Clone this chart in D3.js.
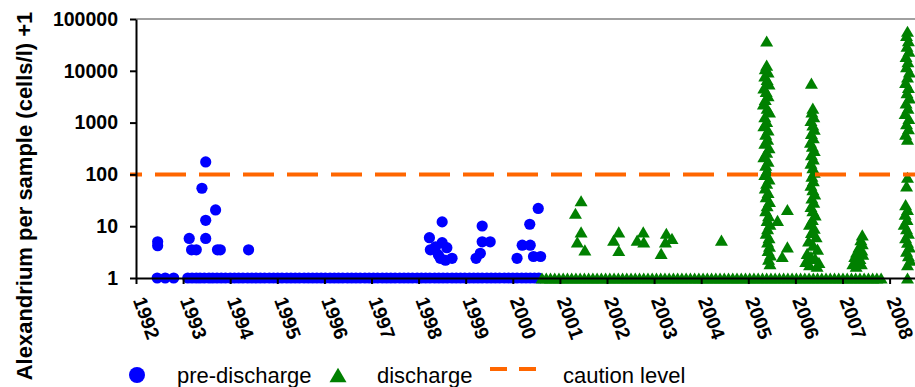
<!DOCTYPE html>
<html>
<head>
<meta charset="utf-8">
<script src="https://cdn.jsdelivr.net/npm/d3@7"></script>
<style>
  body { margin: 0; background: #fff; }
  svg { display: block; font-family: "Liberation Sans", Arial, sans-serif; }
</style>
</head>
<body>
<svg id="chart" width="915" height="387"></svg>
<script>
// chart data
const years = [1992, 1993, 1994, 1995, 1996, 1997, 1998, 1999, 2000, 2001, 2002, 2003, 2004, 2005, 2006, 2007, 2008];
const yTicks = [1, 10, 100, 1000, 10000, 100000];
const cautionLevel = 100;

// pre-discharge samples with no cells (plotted at 0 + 1)
const preZeroDates = [
  1992.45, 1992.62, 1992.80,
  1993.10, 1993.19, 1993.28, 1993.36, 1993.45, 1993.55, 1993.63, 1993.72, 1993.81, 1993.90,
  1994.00, 1994.09, 1994.18, 1994.27, 1994.37, 1994.46, 1994.55, 1994.64, 1994.73, 1994.83, 1994.92,
  1995.01, 1995.10, 1995.20, 1995.29, 1995.38, 1995.47, 1995.57, 1995.66, 1995.75, 1995.84, 1995.93,
  1996.02, 1996.12, 1996.21, 1996.30, 1996.39, 1996.49, 1996.58, 1996.67, 1996.76, 1996.86, 1996.95,
  1997.04, 1997.13, 1997.23, 1997.32, 1997.41, 1997.50, 1997.60, 1997.69, 1997.78, 1997.87, 1997.97,
  1998.06, 1998.15, 1998.24, 1998.34, 1998.43, 1998.52, 1998.61, 1998.71, 1998.80, 1998.89, 1998.98,
  1999.08, 1999.17, 1999.26, 1999.35, 1999.45, 1999.54, 1999.63, 1999.72, 1999.82, 1999.91,
  2000.00, 2000.09, 2000.19, 2000.28, 2000.37, 2000.46, 2000.55
];

// pre-discharge samples with cells
const preCounts = [
  [1992.46, 5.0], [1992.46, 4.2],
  [1993.13, 5.8], [1993.18, 3.5], [1993.28, 3.5], [1993.40, 54], [1993.48, 174], [1993.48, 13],
  [1993.48, 5.8], [1993.69, 20.6], [1993.73, 3.5], [1993.79, 3.5], [1994.39, 3.5],
  [1998.23, 6.0], [1998.25, 3.5], [1998.36, 4.0], [1998.50, 12.1], [1998.50, 4.8], [1998.60, 3.85],
  [1998.42, 2.8], [1998.71, 2.4], [1998.57, 2.2], [1998.46, 2.4],
  [1999.35, 10.1], [1999.35, 5.0], [1999.52, 5.0], [1999.31, 3.0], [1999.22, 2.4],
  [2000.54, 22], [2000.36, 10.9], [2000.20, 4.3], [2000.37, 4.3], [2000.09, 2.4], [2000.44, 2.6], [2000.59, 2.6]
];

// discharge samples with no cells
const disZeroDates = [
  2000.62, 2000.71, 2000.80, 2000.89, 2000.98,
  2001.07, 2001.16, 2001.25, 2001.34, 2001.43, 2001.52, 2001.61, 2001.70, 2001.79, 2001.88, 2001.97,
  2002.06, 2002.15, 2002.24, 2002.33, 2002.42, 2002.51, 2002.60, 2002.69, 2002.78, 2002.87, 2002.96,
  2003.05, 2003.14, 2003.23, 2003.32, 2003.41, 2003.50, 2003.59, 2003.68, 2003.77, 2003.86, 2003.95,
  2004.04, 2004.13, 2004.22, 2004.31, 2004.40, 2004.49, 2004.58, 2004.67, 2004.76, 2004.85, 2004.94,
  2005.03, 2005.12, 2005.21, 2005.30, 2005.39, 2005.48, 2005.57, 2005.66, 2005.75, 2005.84, 2005.93,
  2006.02, 2006.11, 2006.20, 2006.29, 2006.38, 2006.47, 2006.56, 2006.65, 2006.74, 2006.83, 2006.92,
  2007.01, 2007.10, 2007.19, 2007.28, 2007.37, 2007.46, 2007.55, 2007.64, 2007.73, 2007.82,
  2008.38
];

// discharge samples with cells
const disCounts = [
  [2001.45, 31], [2001.33, 17.8], [2001.45, 7.8], [2001.37, 5.0], [2001.53, 3.5],
  [2002.25, 7.8], [2002.14, 5.4], [2002.25, 3.4],
  [2002.77, 7.8], [2002.64, 5.4], [2002.78, 5.0],
  [2003.26, 7.3], [2003.38, 5.8], [2003.24, 5.0], [2003.15, 3.0],
  [2004.43, 5.4],
  // 2005 bloom
  [2005.39, 37600],
  [2005.39, 12900], [2005.36, 11000], [2005.42, 9500], [2005.35, 8000], [2005.40, 6800], [2005.44, 5600],
  [2005.33, 4700], [2005.38, 4000], [2005.42, 3300], [2005.36, 2800], [2005.32, 2300], [2005.40, 1900],
  [2005.45, 1600], [2005.35, 1300], [2005.39, 1050], [2005.33, 870], [2005.42, 720], [2005.37, 600],
  [2005.41, 480], [2005.35, 400], [2005.44, 330], [2005.39, 270], [2005.33, 220], [2005.42, 180],
  [2005.37, 150], [2005.40, 120], [2005.35, 100], [2005.44, 82], [2005.39, 68], [2005.36, 55],
  [2005.42, 45], [2005.38, 37], [2005.45, 30], [2005.40, 25], [2005.37, 20], [2005.43, 16],
  [2005.40, 13], [2005.46, 11], [2005.41, 9], [2005.38, 7.3], [2005.44, 6], [2005.41, 5],
  [2005.45, 4.1], [2005.42, 3.4], [2005.47, 2.8], [2005.43, 2.3], [2005.46, 1.9],
  [2005.83, 21], [2005.62, 13], [2005.83, 4.0], [2005.72, 2.6],
  // 2006 bloom
  [2006.34, 5800],
  [2006.37, 1900], [2006.35, 1600], [2006.39, 1300], [2006.33, 1100], [2006.37, 900], [2006.40, 750],
  [2006.34, 620], [2006.38, 510], [2006.32, 420], [2006.36, 350], [2006.40, 290], [2006.34, 240],
  [2006.38, 200], [2006.33, 165], [2006.37, 135], [2006.40, 110], [2006.35, 92], [2006.38, 76],
  [2006.33, 62], [2006.37, 51], [2006.41, 42], [2006.35, 35], [2006.39, 29], [2006.33, 24],
  [2006.37, 20], [2006.42, 16.5], [2006.36, 13.5], [2006.30, 11], [2006.40, 9.2], [2006.34, 7.6],
  [2006.44, 6.3], [2006.28, 5.2], [2006.38, 4.3], [2006.47, 3.6], [2006.25, 3.0], [2006.33, 2.6],
  [2006.42, 2.4], [2006.22, 2.1], [2006.50, 2.0], [2006.30, 1.8], [2006.46, 1.7],
  // 2007
  [2007.42, 6.8], [2007.39, 5.5], [2007.42, 4.6], [2007.35, 4.0], [2007.41, 3.5], [2007.30, 3.2],
  [2007.43, 2.9], [2007.26, 2.6], [2007.37, 2.4], [2007.32, 2.1], [2007.22, 1.9], [2007.40, 1.9], [2007.29, 1.7],
  // 2008 bloom
  [2008.38, 58000], [2008.36, 48000], [2008.40, 38000], [2008.37, 30000], [2008.41, 24000], [2008.35, 19000],
  [2008.39, 15000], [2008.36, 12000], [2008.42, 9500], [2008.38, 7600], [2008.34, 6000], [2008.40, 4800],
  [2008.37, 3800], [2008.42, 3000], [2008.35, 2400], [2008.39, 1900], [2008.33, 1500], [2008.41, 1200],
  [2008.36, 950], [2008.40, 760], [2008.34, 600], [2008.38, 480],
  [2008.38, 88], [2008.36, 60],
  [2008.34, 26], [2008.38, 21], [2008.33, 17], [2008.37, 13.5], [2008.31, 11], [2008.36, 9],
  [2008.40, 7.3], [2008.34, 6], [2008.38, 4.9], [2008.42, 4], [2008.36, 3.3], [2008.40, 2.7],
  [2008.44, 2.2], [2008.38, 1.8]
];

const preData = preZeroDates.map(d => [d, 1]).concat(preCounts);
const disData = disZeroDates.map(d => [d, 1]).concat(disCounts);

const svg = d3.select("#chart");
const plotLeft = 136, plotTop = 19, plotBottom = 278, yearWidth = 47.1;

const x = d3.scaleLinear().domain([1992, 2009]).range([plotLeft, plotLeft + 17 * yearWidth]);
const y = d3.scaleLog().domain([1, 100000]).range([plotBottom, plotTop]);

// triangle centred on its box, like spreadsheet markers
const boxTriangle = {
  draw(ctx, size) {
    const w = Math.sqrt(size), h = w * 0.86;
    ctx.moveTo(0, -h / 2);
    ctx.lineTo(w / 2, h / 2);
    ctx.lineTo(-w / 2, h / 2);
    ctx.closePath();
  }
};

// plot area top border
svg.append("line")
  .attr("x1", plotLeft).attr("x2", 915)
  .attr("y1", plotTop).attr("y2", plotTop)
  .attr("stroke", "#a0a0a0").attr("stroke-width", 2);

// points
svg.append("g").selectAll("circle")
  .data(preData)
  .join("circle")
  .attr("cx", d => x(d[0]))
  .attr("cy", d => y(d[1]))
  .attr("r", 5.6)
  .attr("fill", "#0000ff");

const tri = d3.symbol().type(boxTriangle).size(13 * 13);
svg.append("g").selectAll("path")
  .data(disData)
  .join("path")
  .attr("transform", d => `translate(${x(d[0])},${y(d[1])})`)
  .attr("d", tri)
  .attr("fill", "#008000");

// caution level
svg.append("line")
  .attr("x1", 130).attr("x2", 915)
  .attr("y1", y(cautionLevel)).attr("y2", y(cautionLevel))
  .attr("stroke", "#ff6600").attr("stroke-width", 4)
  .attr("stroke-dasharray", "31 13")
  .attr("stroke-dashoffset", 19);

// axes
const yAxis = svg.append("g")
  .attr("transform", `translate(${plotLeft},0)`)
  .call(d3.axisLeft(y).tickValues(yTicks).tickFormat(d3.format("d")).tickSize(6).tickSizeOuter(0).tickPadding(12));

const xAxis = svg.append("g")
  .attr("transform", `translate(0,${plotBottom})`)
  .call(d3.axisBottom(x).tickValues(years).tickFormat(d3.format("d")).tickSize(6).tickSizeOuter(0));

[yAxis, xAxis].forEach(ax => {
  ax.select(".domain").attr("stroke", "#000").attr("stroke-width", 2);
  ax.selectAll(".tick line").attr("stroke", "#000").attr("stroke-width", 2);
  ax.selectAll("text")
    .attr("fill", "#000")
    .attr("font-family", "'Liberation Sans', Arial, sans-serif")
    .attr("font-weight", "bold")
    .attr("font-size", 19.5);
});

xAxis.selectAll("text")
  .attr("y", 0)
  .attr("dy", "0.35em")
  .attr("text-anchor", "middle")
  .attr("transform", "translate(10,40) rotate(70)");

// y axis title
svg.append("text")
  .attr("transform", "translate(32,196) rotate(-90)")
  .attr("text-anchor", "middle")
  .attr("font-weight", "bold")
  .attr("font-size", 22)
  .text("Alexandrium per sample (cells/l) +1");

// legend
const legend = svg.append("g").attr("font-size", 22);
legend.append("circle").attr("cx", 137).attr("cy", 375).attr("r", 8).attr("fill", "#0000ff");
legend.append("text").attr("x", 177).attr("y", 383).text("pre-discharge");
legend.append("path")
  .attr("transform", "translate(338,375)")
  .attr("d", d3.symbol().type(boxTriangle).size(17 * 17))
  .attr("fill", "#008000");
legend.append("text").attr("x", 377).attr("y", 383).text("discharge");
legend.append("line")
  .attr("x1", 490).attr("x2", 536).attr("y1", 369).attr("y2", 369)
  .attr("stroke", "#ff6600").attr("stroke-width", 4)
  .attr("stroke-dasharray", "17 12");
legend.append("text").attr("x", 563).attr("y", 383).text("caution level");
</script>
</body>
</html>
